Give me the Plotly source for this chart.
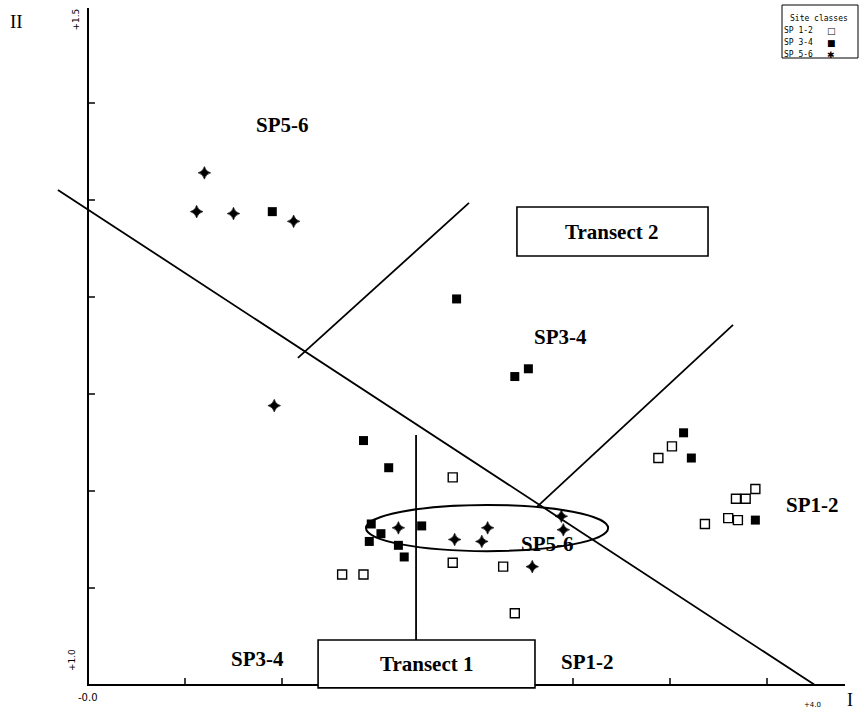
import plotly.graph_objects as go

# Ordination scores (axis I, axis II) by site class
sp12_x = [1.88, 1.31, 1.42, 1.88, 2.14, 2.20, 3.01, 2.94, 3.44, 3.34, 3.39, 3.30, 3.35, 3.18]
sp12_y = [1.07, 0.57, 0.57, 0.63, 0.61, 0.37, 1.23, 1.17, 1.01, 0.96, 0.96, 0.86, 0.85, 0.83]

sp34_x = [0.95, 1.90, 2.20, 2.27, 1.42, 1.55, 1.46, 1.51, 1.72, 1.45, 1.60, 1.63, 3.07, 3.11, 3.44]
sp34_y = [2.44, 1.99, 1.59, 1.63, 1.26, 1.12, 0.83, 0.78, 0.82, 0.74, 0.72, 0.66, 1.30, 1.17, 0.85]

sp56_x = [0.60, 0.56, 0.75, 1.06, 0.96, 1.60, 1.89, 2.06, 2.03, 2.44, 2.45, 2.29]
sp56_y = [2.64, 2.44, 2.43, 2.39, 1.44, 0.81, 0.75, 0.81, 0.74, 0.87, 0.80, 0.61]

# Group boundaries and transect lines (axis units)
boundary_main = [(-0.155, 2.552), (3.747, 0.0)]
transect2_line = [(1.082, 1.686), (1.964, 2.485)]
right_line = [(2.314, 0.918), (3.325, 1.856)]
transect1_line = [(1.691, 1.289), (1.691, 0.232)]
ellipse_center = (2.057, 0.809)
ellipse_axes = (0.624, 0.119)

X_END, Y_END = 3.902, 3.49
TICK_STEP = 0.5

fig = go.Figure()

# axes drawn as lines from the origin
fig.add_trace(go.Scatter(x=[0, 0, X_END], y=[Y_END, 0, 0], mode="lines",
                         line=dict(color="black", width=2), hoverinfo="skip"))
tl = 0.036
tx, ty = [], []
v = TICK_STEP
while v < X_END - 0.1:
    tx += [v, v, None]; ty += [0, tl, None]
    v += TICK_STEP
v = TICK_STEP
while v < Y_END - 0.1:
    tx += [0, tl, None]; ty += [v, v, None]
    v += TICK_STEP
fig.add_trace(go.Scatter(x=tx, y=ty, mode="lines", line=dict(color="black", width=1.5),
                         hoverinfo="skip"))

for seg in [boundary_main, transect2_line, right_line, transect1_line]:
    fig.add_trace(go.Scatter(x=[p[0] for p in seg], y=[p[1] for p in seg], mode="lines",
                             line=dict(color="black", width=1.8), hoverinfo="skip"))

fig.add_shape(type="circle", xref="x", yref="y",
              x0=ellipse_center[0] - ellipse_axes[0], x1=ellipse_center[0] + ellipse_axes[0],
              y0=ellipse_center[1] - ellipse_axes[1], y1=ellipse_center[1] + ellipse_axes[1],
              line=dict(color="black", width=2))

# transect boxes
for (x0, y0, x1, y1, label) in [(2.211, 2.211, 3.196, 2.464, "Transect 2"),
                                 (1.186, -0.015, 2.304, 0.232, "Transect 1")]:
    fig.add_shape(type="rect", xref="x", yref="y", x0=x0, x1=x1, y0=y0, y1=y1,
                  line=dict(color="black", width=1.6), fillcolor="white")
    fig.add_annotation(x=(x0 + x1) / 2, y=(y0 + y1) / 2, text="<b>" + label + "</b>",
                       showarrow=False,
                       font=dict(family="Liberation Serif", size=21, color="black"))

fig.add_trace(go.Scatter(x=sp12_x, y=sp12_y, mode="markers",
                         marker=dict(symbol="square-open", size=9, color="black",
                                     line=dict(width=1.4))))
fig.add_trace(go.Scatter(x=sp34_x, y=sp34_y, mode="markers",
                         marker=dict(symbol="square", size=9, color="black")))
fig.add_trace(go.Scatter(x=sp56_x, y=sp56_y, mode="markers",
                         marker=dict(symbol="star-diamond", size=9, color="black",
                                     line=dict(width=0.6, color="black"))))

serif_bold = dict(family="Liberation Serif", size=21, color="black")
for (x, y, t) in [(1.005, 2.887, "SP5-6"), (2.433, 1.794, "SP3-4"), (3.732, 0.928, "SP1-2"),
                  (0.876, 0.134, "SP3-4"), (2.577, 0.119, "SP1-2"), (2.371, 0.727, "SP5-6")]:
    fig.add_annotation(x=x, y=y, text="<b>" + t + "</b>", showarrow=False, font=serif_bold)

small = dict(family="DejaVu Sans", size=10, color="black")
fig.add_annotation(x=0.0, y=-0.065, text="-0.0", showarrow=False, font=small)
fig.add_annotation(x=3.732, y=-0.103, text="+4.0", showarrow=False,
                   font=dict(family="DejaVu Sans", size=7, color="black"))
fig.add_annotation(x=-0.082, y=0.129, text="+1.0", textangle=-90, showarrow=False,
                   font=dict(family="DejaVu Sans", size=9, color="black"))
fig.add_annotation(x=-0.062, y=3.43, text="+1.5", textangle=-90, showarrow=False,
                   font=dict(family="DejaVu Sans", size=9, color="black"))
fig.add_annotation(x=3.93, y=-0.077, text="I", showarrow=False,
                   font=dict(family="Liberation Serif", size=18, color="black"))
fig.add_annotation(x=-0.371, y=3.418, text="II", showarrow=False,
                   font=dict(family="Liberation Serif", size=19, color="black"))

# legend box
fig.add_shape(type="rect", xref="paper", yref="paper",
              x0=782 / 859, x1=858 / 859, y0=1 - 58 / 715, y1=1 - 5 / 715,
              line=dict(color="black", width=1), fillcolor="white")
mono = dict(family="DejaVu Sans Mono", size=8, color="black")
fig.add_annotation(xref="paper", yref="paper", x=789 / 859, y=1 - 13 / 715, xanchor="left",
                   text="Site classes", showarrow=False, font=mono, borderpad=0)
for i, (lab, sym) in enumerate([("SP 1-2", "□"), ("SP 3-4", "■"), ("SP 5-6", "✱")]):
    yy = 1 - (25 + 12 * i) / 715
    fig.add_annotation(xref="paper", yref="paper", x=783 / 859, y=yy, xanchor="left",
                       text=lab, showarrow=False, font=mono, borderpad=0)
    fig.add_annotation(xref="paper", yref="paper", x=826 / 859, y=yy, xanchor="left",
                       text=sym, showarrow=False, borderpad=0,
                       font=dict(family="DejaVu Sans", size=9, color="black"))

fig.update_layout(
    width=859, height=715, showlegend=False,
    margin=dict(l=0, r=0, t=0, b=0),
    paper_bgcolor="white", plot_bgcolor="white",
    xaxis=dict(range=[-0.4536, 3.9742], visible=False),
    yaxis=dict(range=[-0.1546, 3.5309], visible=False),
)

fig.write_html("out.html")
